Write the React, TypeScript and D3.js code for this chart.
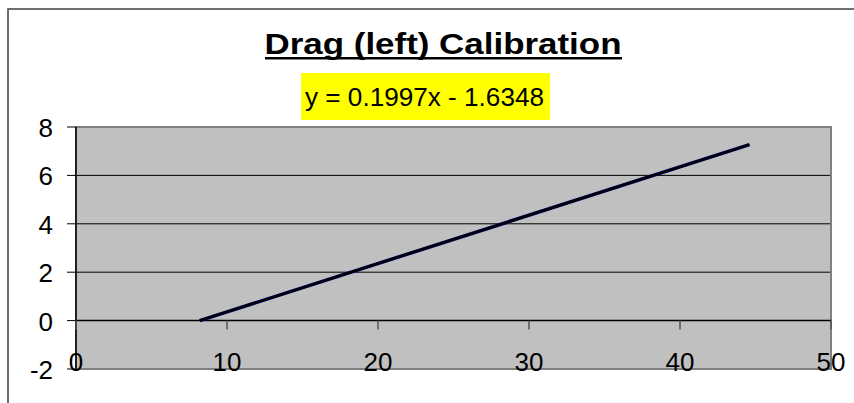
import React from "react";
import * as d3 from "d3";

const seriesX = [8.19, 44.6];
const seriesY = [0, 7.27];
const slope = 0.1997;
const intercept = -1.6348;
const xTicks = [0, 10, 20, 30, 40, 50];
const yTicks = [-2, 0, 2, 4, 6, 8];
const gridY = [2, 4, 6, 8];
const titleText = "Drag (left) Calibration";
const equationText = "y = 0.1997x - 1.6348";

export default function App() {
  const W = 854, H = 403;
  const L = 76, R = 831, T = 127, B = 369;
  const x = d3.scaleLinear().domain([0, 50]).range([L, R]);
  const y = d3.scaleLinear().domain([-2, 8]).range([B, T]);
  const pts: [number, number][] = seriesX.map((v, i) => [v, seriesY[i]]);
  const line = d3.line<[number, number]>().x(d => x(d[0])).y(d => y(d[1]));
  const xmin = d3.min(seriesX)!, xmax = d3.max(seriesX)!;
  const trend: [number, number][] = [[xmin, slope * xmin + intercept], [xmax, slope * xmax + intercept]];
  const font = "Arial, 'Liberation Sans', sans-serif";
  return (
    <svg width={W} height={H} style={{ position: "absolute", left: 0, top: 0, background: "#fff" }} fontFamily={font}>
      <rect x={8} y={9} width={900} height={450} fill="#fff" stroke="#404040" strokeWidth={1.5} />
      <text x={443} y={53.5} fontSize={29} fontWeight="bold" textAnchor="middle" textLength={357} lengthAdjust="spacingAndGlyphs" fill="#000">{titleText}</text>
      <rect x={265} y={57} width={357} height={2.5} fill="#000" />
      <rect x={301} y={73} width={249} height={47} fill="#ffff00" />
      <text x={305} y={105.5} fontSize={26} textLength={239} lengthAdjust="spacingAndGlyphs" fill="#000">{equationText}</text>
      <rect x={L} y={T} width={R - L} height={B - T} fill="#c0c0c0" />
      {gridY.map(v => (
        <line key={v} x1={L} x2={R} y1={y(v)} y2={y(v)} stroke="#000" strokeWidth={1} />
      ))}
      <rect x={L} y={T} width={R - L} height={B - T} fill="none" stroke="#808080" strokeWidth={2} />
      <line x1={L} x2={L} y1={T} y2={B} stroke="#000" strokeWidth={1.5} />
      {yTicks.map(v => (
        <g key={v}>
          <line x1={L - 9} x2={L} y1={y(v)} y2={y(v)} stroke="#000" strokeWidth={1} />
          <text x={53} y={y(v) + 10} fontSize={26} textAnchor="end" fill="#000">{v}</text>
        </g>
      ))}
      <line x1={L} x2={R} y1={y(0)} y2={y(0)} stroke="#000" strokeWidth={1.5} />
      {xTicks.map(v => (
        <g key={v}>
          <line x1={x(v)} x2={x(v)} y1={y(0)} y2={y(0) + 9} stroke="#555" strokeWidth={1.5} />
          <text x={x(v)} y={371} fontSize={26} textAnchor="middle" fill="#000">{v}</text>
        </g>
      ))}
      <path d={line(pts)!} fill="none" stroke="#000080" strokeWidth={3.5} />
      <path d={line(trend)!} fill="none" stroke="#000" strokeWidth={2.5} />
    </svg>
  );
}
